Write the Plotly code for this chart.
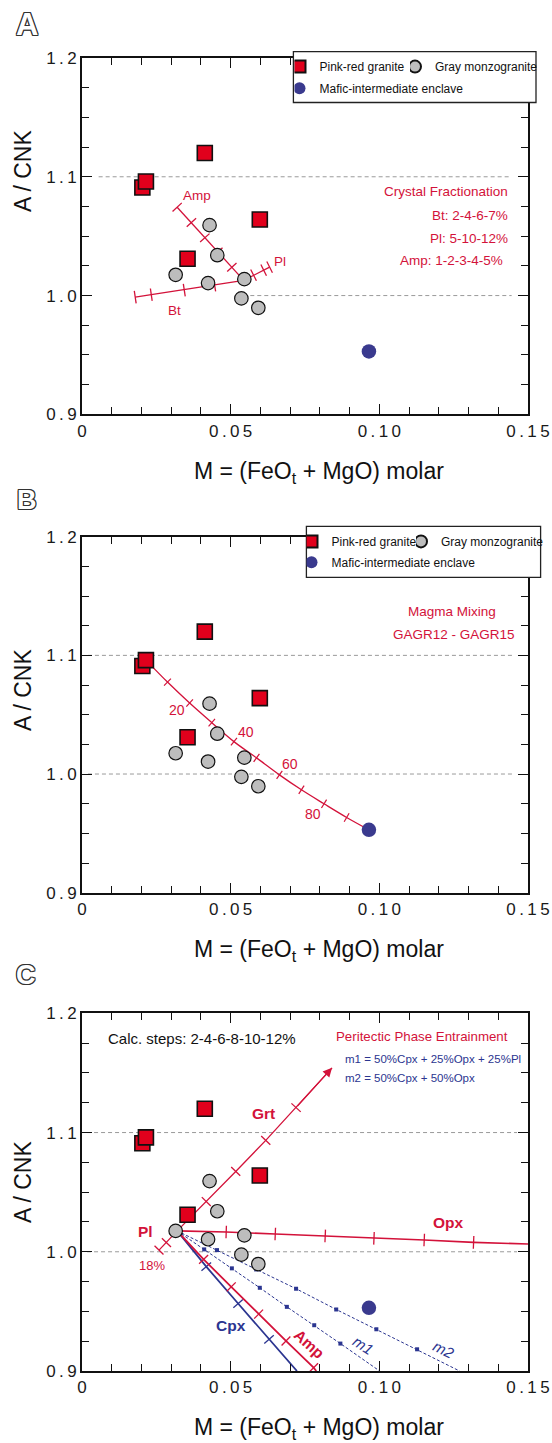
import math
import plotly.graph_objects as go

# ---------------- data ----------------
pink_x = [0.0203, 0.0215, 0.0413, 0.0598, 0.0355]
pink_y = [1.091, 1.096, 1.120, 1.064, 1.031]
gray_x = [0.0429, 0.0455, 0.0315, 0.0424, 0.0546, 0.0536, 0.0593]
gray_y = [1.0593, 1.0340, 1.0175, 1.0105, 1.0138, 0.9976, 0.9897]
mafic_x = [0.0965]
mafic_y = [0.953]

# Panel A - crystal fractionation vectors (start point, then calc steps)
bt_x = [0.0544, 0.0446, 0.0344, 0.0233, 0.0179]
bt_y = [1.0128, 1.0088, 1.0046, 1.0007, 0.9987]
pla_x = [0.0544, 0.0577, 0.0611, 0.0631]
pla_y = [1.0128, 1.0172, 1.0214, 1.0239]
ampa_x = [0.0544, 0.0504, 0.0457, 0.0413, 0.0368, 0.0320]
ampa_y = [1.0128, 1.0239, 1.0366, 1.0486, 1.0615, 1.0744]

# Panel B - magma mixing curve (0..100 %, 10 % steps)
mix_x = [0.0215, 0.02875, 0.0362, 0.04365, 0.0511, 0.0587, 0.0664, 0.0738, 0.0814, 0.0890, 0.0965]
mix_y = [1.096, 1.0775, 1.0598, 1.0433, 1.0273, 1.0136, 0.9993, 0.9867, 0.9749, 0.9634, 0.953]
mix_labels = ["20", "40", "60", "80"]

# Panel C - peritectic phase entrainment
grt_x = [0.0320, 0.0418, 0.0517, 0.0618, 0.0720, 0.0841]
grt_y = [1.0175, 1.0421, 1.0674, 1.0934, 1.1209, 1.1543]
plc_x = [0.0320, 0.0284, 0.0259]
plc_y = [1.0175, 1.0077, 1.0014]
opx_x = [0.0320, 0.0485, 0.0650, 0.0818, 0.0982, 0.1151, 0.1317, 0.1500]
opx_y = [1.0175, 1.0166, 1.0149, 1.0133, 1.0113, 1.0099, 1.0079, 1.0065]
ampc_x = [0.0320, 0.0409, 0.0502, 0.0594, 0.0686, 0.0779, 0.0788]
ampc_y = [1.0175, 0.9936, 0.9706, 0.9477, 0.9252, 0.9028, 0.9000]
cpx_x = [0.0320, 0.0418, 0.0525, 0.0629, 0.0723]
cpx_y = [1.0175, 0.9875, 0.9566, 0.9266, 0.9000]
m1_x = [0.0320, 0.0411, 0.0504, 0.0598, 0.0689, 0.0781, 0.0869, 0.1001]
m1_y = [1.0175, 1.0020, 0.9861, 0.9698, 0.9538, 0.9384, 0.9230, 0.9000]
m2_x = [0.0320, 0.0454, 0.0586, 0.0720, 0.0855, 0.0990, 0.1127, 0.1270]
m2_y = [1.0175, 1.0014, 0.9852, 0.9690, 0.9516, 0.9350, 0.9182, 0.9000]

guide_y = [1.1, 1.0]
x_tick_vals = [0, 0.05, 0.10, 0.15]
x_tick_text = ["0", "0.05", "0.10", "0.15"]
y_tick_vals = [0.9, 1.0, 1.1, 1.2]
y_tick_text = ["0.9", "1.0", "1.1", "1.2"]

# ---------------- style ----------------
W, H = 552, 1443
ML, MR, MT, MB = 82, 24, 58, 72
PW, PH = W - ML - MR, H - MT - MB
SX = 446 / 0.15
SY = 356.5 / 0.3
RED = "#D3123A"
BLUE = "#2B3590"
SANS = "Liberation Sans, Arial, sans-serif"
TS = "\u2009"


def spaced(s):
    return TS.join(list(s))


def P(px, py):
    return (px - ML) / PW, 1 - (py - MT) / PH


def angles(xs, ys):
    out = []
    n = len(xs)
    for i in range(n):
        a, b = max(i - 1, 0), min(i + 1, n - 1)
        dx = (xs[b] - xs[a]) * SX
        dy = -(ys[b] - ys[a]) * SY
        out.append(math.degrees(math.atan2(dy, dx)))
    return out


fig = go.Figure()
domains = [[0.7286, 1.0], [0.3643, 0.6354], [0.0, 0.2724]]


def add_vector(xs, ys, ax, color, width=1.3, tick_idx=None, ticksize=9, dash=None, dots=False):
    xa, ya = ("x", "y") if ax == 1 else (f"x{ax}", f"y{ax}")
    fig.add_trace(go.Scatter(x=xs, y=ys, mode="lines", xaxis=xa, yaxis=ya,
                             line=dict(color=color, width=width, dash=dash),
                             showlegend=False, hoverinfo="skip"))
    if tick_idx is None:
        tick_idx = list(range(1, len(xs)))
    ang = angles(xs, ys)
    tx = [xs[i] for i in tick_idx]
    ty = [ys[i] for i in tick_idx]
    ta = [ang[i] for i in tick_idx]
    if dots:
        mk = dict(symbol="square", size=4, color=color, line=dict(width=0))
    else:
        mk = dict(symbol="line-ns", size=ticksize, angle=ta,
                  line=dict(color=color, width=1.3))
    fig.add_trace(go.Scatter(x=tx, y=ty, mode="markers", xaxis=xa, yaxis=ya,
                             marker=mk, showlegend=False, hoverinfo="skip"))


def add_samples(ax, legs=None):
    xa, ya = ("x", "y") if ax == 1 else (f"x{ax}", f"y{ax}")
    show = legs is not None
    legs = legs or ["legend"] * 3
    fig.add_trace(go.Scatter(x=pink_x, y=pink_y, mode="markers", xaxis=xa, yaxis=ya,
                             name="Pink-red granite", showlegend=show, legend=legs[0],
                             marker=dict(symbol="square", size=15, color="#E1001C",
                                         line=dict(color="#111", width=1.6))))
    fig.add_trace(go.Scatter(x=gray_x, y=gray_y, mode="markers", xaxis=xa, yaxis=ya,
                             name="Gray monzogranite", showlegend=show, legend=legs[1],
                             marker=dict(symbol="circle", size=13.5, color="#BDBDBD",
                                         line=dict(color="#111", width=1.2))))
    fig.add_trace(go.Scatter(x=mafic_x, y=mafic_y, mode="markers", xaxis=xa, yaxis=ya,
                             name="Mafic-intermediate enclave", showlegend=show, legend=legs[2],
                             marker=dict(symbol="circle", size=14.5, color="#3A3A8E",
                                         line=dict(color="#3A3A8E", width=0))))


# ----- Panel A -----
add_vector(bt_x, bt_y, 1, RED)
add_vector(pla_x, pla_y, 1, RED)
add_vector(ampa_x, ampa_y, 1, RED)
add_samples(1, ["legend", "legend2", "legend3"])

# ----- Panel B -----
xa, ya = "x2", "y2"
fig.add_trace(go.Scatter(x=mix_x, y=mix_y, mode="lines", xaxis=xa, yaxis=ya,
                         line=dict(color=RED, width=1.3, shape="spline"),
                         showlegend=False, hoverinfo="skip"))
mang = angles(mix_x, mix_y)
fig.add_trace(go.Scatter(x=mix_x[1:-1], y=mix_y[1:-1], mode="markers", xaxis=xa, yaxis=ya,
                         marker=dict(symbol="line-ns", size=7, angle=mang[1:-1],
                                     line=dict(color=RED, width=1.2)),
                         showlegend=False, hoverinfo="skip"))
add_samples(2, ["legend4", "legend5", "legend6"])

# ----- Panel C -----
add_vector(opx_x, opx_y, 3, RED, width=1.6, tick_idx=[1, 2, 3, 4, 5, 6])
add_vector(grt_x, grt_y, 3, RED, width=1.3, tick_idx=[1, 2, 3, 4])
add_vector(plc_x, plc_y, 3, RED, width=1.3)
add_vector(m2_x, m2_y, 3, BLUE, width=1, tick_idx=[1, 2, 3, 4, 5, 6], dash="3px,2px", dots=True)
add_vector(m1_x, m1_y, 3, BLUE, width=1, tick_idx=[1, 2, 3, 4, 5, 6], dash="3px,2px", dots=True)
add_vector(cpx_x, cpx_y, 3, BLUE, width=1.8, tick_idx=[1, 2, 3])
add_vector(ampc_x, ampc_y, 3, RED, width=1.8, tick_idx=[1, 2, 3, 4, 5])
add_samples(3)

# ---------------- axes ----------------
for i, dom in enumerate(domains, start=1):
    sfx = "" if i == 1 else str(i)
    fig.update_layout(**{
        f"xaxis{sfx}": dict(
            domain=[0, 1], anchor=f"y{sfx}", range=[0, 0.15],
            tickmode="array", tickvals=x_tick_vals, ticktext=[spaced(t) for t in x_tick_text],
            ticks="inside", ticklen=10, tickwidth=1.3, tickcolor="#111",
            minor=dict(dtick=0.01, tick0=0, ticks="inside", ticklen=7, tickwidth=1.3,
                       tickcolor="#111", showgrid=False),
            showline=True, linewidth=1.8, linecolor="#111", mirror="allticks",
            showgrid=False, zeroline=False,
            tickfont=dict(family=SANS, size=17, color="#1a1a1a")),
        f"yaxis{sfx}": dict(
            domain=dom, anchor=f"x{sfx}", range=[0.9, 1.2],
            tickmode="array", tickvals=y_tick_vals, ticktext=[spaced(t) for t in y_tick_text],
            ticks="inside", ticklen=10, tickwidth=1.3, tickcolor="#111",
            minor=dict(dtick=0.025, tick0=0.9, ticks="inside", ticklen=7, tickwidth=1.3,
                       tickcolor="#111", showgrid=False),
            showline=True, linewidth=1.8, linecolor="#111", mirror="allticks",
            showgrid=False, zeroline=False,
            tickfont=dict(family=SANS, size=17, color="#1a1a1a")),
    })

# ---------------- guide lines ----------------
shapes = []
guide_extent = {1: [[0.0056, 0.1445], [0.0566, 0.1445]],
                2: [[0.0020, 0.1447], [0.0020, 0.1447]],
                3: [[0.0017, 0.1463], [0.0017, 0.1463]]}
for ax, ext in guide_extent.items():
    sfx = "" if ax == 1 else str(ax)
    for gy, (x0, x1) in zip(guide_y, ext):
        shapes.append(dict(type="line", xref=f"x{sfx}", yref=f"y{sfx}", x0=x0, x1=x1,
                           y0=gy, y1=gy, layer="below",
                           line=dict(color="#9a9a9a", width=1, dash="4px,3px")))

# legend boxes
for (x0, y0, x1, y1) in [(293.4, 51.7, 536, 102.5), (306.4, 526.4, 540.6, 577.3)]:
    a0, b0 = P(x0, y0)
    a1, b1 = P(x1, y1)
    shapes.append(dict(type="rect", xref="paper", yref="paper", x0=a0, x1=a1, y0=b1, y1=b0,
                       layer="above", fillcolor="white", line=dict(color="#222", width=1.3)))
fig.update_layout(shapes=shapes)

# ---------------- legends (one entry each) ----------------
leg_common = dict(orientation="h", bgcolor="rgba(0,0,0,0)", borderwidth=0,
                  font=dict(family=SANS, size=12, color="#111"),
                  itemsizing="constant", xanchor="left", yanchor="middle",
                  itemwidth=30, indentation=-15)
leg_pos = {"legend": (294.5, 66.6), "legend2": (410, 66.6), "legend3": (294.5, 88.2),
           "legend4": (306.5, 541.4), "legend5": (416, 541.4), "legend6": (306.5, 562.3)}
for name, (lxp, lyp) in leg_pos.items():
    lx, ly = P(lxp, lyp)
    fig.update_layout(**{name: dict(leg_common, x=lx, y=ly)})

# ---------------- annotations ----------------
ann = []


def txt(text, x, y, ax, size=13.5, color=RED, xanchor="center", bold=False, italic=False,
        angle=0, family=SANS):
    sfx = "" if ax == 1 else str(ax)
    ann.append(dict(text=text, x=x, y=y, xref=f"x{sfx}", yref=f"y{sfx}", showarrow=False,
                    xanchor=xanchor, yanchor="middle", textangle=angle,
                    font=dict(family=family, size=size, color=color,
                              weight="bold" if bold else "normal",
                              style="italic" if italic else "normal")))


# Panel A labels
txt("Amp", 0.0387, 1.0842, 1)
txt("Pl", 0.0665, 1.0290, 1)
txt("Bt", 0.0311, 0.9878, 1)
txt("Crystal Fractionation", 0.1441, 1.0879, 1, xanchor="right")
txt("Bt: 2-4-6-7%", 0.1441, 1.0677, 1, xanchor="right")
txt("Pl: 5-10-12%", 0.1441, 1.0480, 1, xanchor="right")
txt("Amp: 1-2-3-4-5%", 0.1424, 1.0298, 1, xanchor="right")

# Panel B labels
for lab, lx, ly in zip(mix_labels, [0.0319, 0.0550, 0.0699, 0.0776], [1.0537, 1.0354, 1.0088, 0.9662]):
    txt(lab, lx, ly, 2, size=14)
txt("Magma Mixing", 0.1243, 1.1370, 2)
txt("GAGR12 - GAGR15", 0.1252, 1.1176, 2)

# Panel C labels
txt("Calc. steps: 2-4-6-8-10-12%", 0.0082, 1.1787, 3, size=15, color="#111", xanchor="left")
txt("Peritectic Phase Entrainment", 0.1441, 1.1809, 3, size=13.3, xanchor="right")
txt("m1 = 50%Cpx + 25%Opx + 25%Pl", 0.0878, 1.1613, 3, size=11.5, color=BLUE, xanchor="left")
txt("m2 = 50%Cpx + 50%Opx", 0.0878, 1.1459, 3, size=11.5, color=BLUE, xanchor="left")
txt("Grt", 0.0609, 1.1164, 3, size=15.5, bold=True)
txt("Opx", 0.1232, 1.0245, 3, size=15.5, bold=True)
txt("Pl", 0.0213, 1.0169, 3, size=15.5, bold=True)
txt("18%", 0.0235, 0.9889, 3, size=13)
txt("Cpx", 0.0501, 0.9378, 3, size=15.5, bold=True, color=BLUE)
txt("Amp", 0.0762, 0.9230, 3, size=15.5, bold=True, angle=42)
txt("m1", 0.0947, 0.9216, 3, size=15, italic=True, color=BLUE, angle=33)
txt("m2", 0.1216, 0.9179, 3, size=15, italic=True, color=BLUE, angle=26)

# Grt arrow head
ann.append(dict(x=grt_x[-1], y=grt_y[-1], ax=grt_x[-2], ay=grt_y[-2], xref="x3", yref="y3",
                axref="x3", ayref="y3", text="", showarrow=True, arrowhead=2, arrowsize=1.4,
                arrowwidth=1.3, arrowcolor=RED))

# axis titles and panel letters
for (ty, xy) in [(171, 472), (690, 950), (1182, 1428)]:
    px, py = P(23, ty)
    ann.append(dict(text="A / CNK", x=px, y=py, xref="paper", yref="paper", showarrow=False,
                    textangle=-90, xanchor="center", yanchor="middle",
                    font=dict(family=SANS, size=23, color="#111")))
    px, py = P(318.7, xy)
    ann.append(dict(text="M = (FeO<sub>t</sub> + MgO) molar", x=px, y=py, xref="paper",
                    yref="paper", showarrow=False, xanchor="center", yanchor="middle",
                    font=dict(family=SANS, size=23, color="#111")))

outline = ("-1px -1px 0 #333, 1px -1px 0 #333, -1px 1px 0 #333, 1px 1px 0 #333, "
           "0 1px 0 #333, 0 -1px 0 #333, 1px 0 0 #333, -1px 0 0 #333")
for letter, lx, ly, sz in [("A", 27, 25, 31), ("B", 27, 500, 27), ("C", 26, 975, 27)]:
    px, py = P(lx, ly)
    ann.append(dict(text=letter, x=px, y=py, xref="paper", yref="paper", showarrow=False,
                    xanchor="center", yanchor="middle",
                    font=dict(family=SANS, size=sz, color="white", weight="bold", shadow=outline)))

fig.update_layout(annotations=ann)

fig.update_layout(width=W, height=H,
                  margin=dict(l=ML, r=MR, t=MT, b=MB, autoexpand=False),
                  paper_bgcolor="white", plot_bgcolor="white", showlegend=True)

fig.write_html("out.html")
